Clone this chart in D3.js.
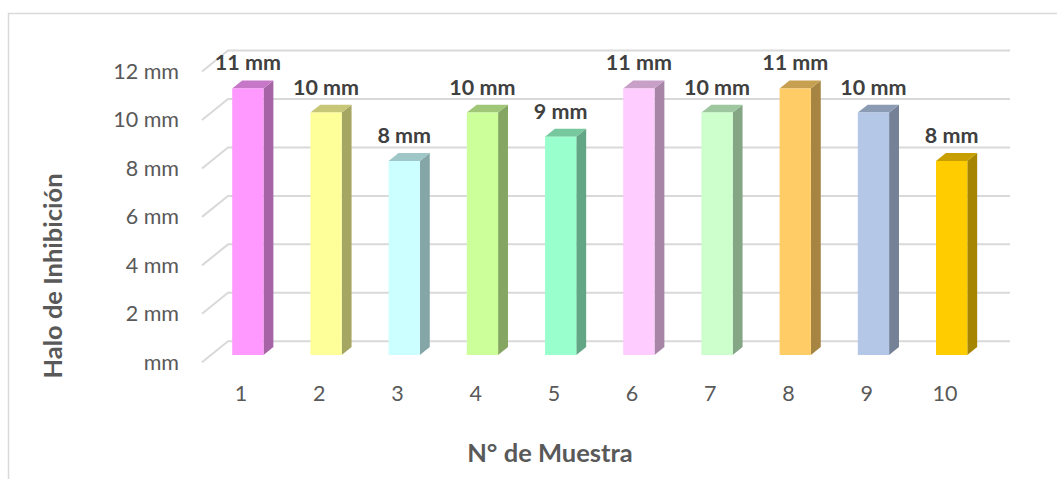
<!DOCTYPE html>
<html>
<head>
<meta charset="utf-8">
<script src="https://cdn.jsdelivr.net/npm/d3@7"></script>
<style>
  html, body { margin: 0; padding: 0; background: #fff; }
  svg { display: block; }
</style>
</head>
<body>
<svg id="chart" width="1057" height="479"></svg>
<script>
// Sample numbers and the inhibition halo measured for each
const categories = ["1", "2", "3", "4", "5", "6", "7", "8", "9", "10"];
const values = [11, 10, 8, 10, 9, 11, 10, 11, 10, 8];
const barColors = ["#FF99FF", "#FFFF99", "#CCFFFF", "#CCFF99", "#99FFCC",
                   "#FFCCFF", "#CCFFCC", "#FFCC66", "#B4C7E7", "#FFCC00"];
const yTicks = [0, 2, 4, 6, 8, 10, 12];
const yTitle = "Halo de Inhibición";
const xTitle = "N° de Muestra";

const svg = d3.select("#chart");
const font = "Lato, 'Open Sans', sans-serif";

// Oblique 3D frame: the floor runs from front (z=0) to back wall (z=1)
const depthDX = 26, depthDY = -21;
const barFront = 0.35, barDepth = 0.38;

const x = d3.scaleBand().domain(categories).range([202, 984]);
const y = d3.scaleLinear().domain([0, 12]).range([362.3, 71.5]);

const proj = (px, v, z) => [px + z * depthDX, y(v) + z * depthDY];

// Outer chart border
svg.append("path")
  .attr("d", "M8.5,479 V13.5 H1057")
  .attr("fill", "none").attr("stroke", "#d9d9d9").attr("stroke-width", 1.5);

// Gridlines on the side wall and back wall
const grid = svg.append("g").attr("stroke", "#d9d9d9").attr("stroke-width", 2).attr("fill", "none");
const [x0, x1] = x.range();
yTicks.forEach(v => {
  const a = proj(x0, v, 0), b = proj(x0, v, 1), c = proj(x1, v, 1);
  grid.append("path").attr("d", `M${a[0]},${a[1]} L${b[0]},${b[1]} L${c[0]},${c[1]}`);
});

// Y tick labels
svg.append("g").selectAll("text").data(yTicks).join("text")
  .attr("x", 179).attr("y", d => y(d)).attr("dy", "0.35em")
  .attr("text-anchor", "end")
  .attr("font-family", font).attr("font-size", 21.5).attr("fill", "#595959")
  .text(d => d === 0 ? "mm" : d + " mm");

// X tick labels
svg.append("g").selectAll("text").data(categories).join("text")
  .attr("x", d => x(d) + x.bandwidth() / 2).attr("y", 393.5).attr("dy", "0.35em")
  .attr("text-anchor", "middle")
  .attr("font-family", font).attr("font-size", 21.5).attr("fill", "#595959")
  .text(d => d);

// 3D columns: front face, right side, top
const bw = x.bandwidth() * 0.4;
const barLeft = d => x(d) + x.bandwidth() * 0.27;
const bars = svg.append("g").selectAll("g").data(categories.map((c, i) => ({ c, v: values[i], col: barColors[i] })))
  .join("g");

const shade = (col, k) => {
  const c = d3.rgb(col);
  return d3.rgb(c.r * k, c.g * k, c.b * k).formatHex();
};
const poly = pts => "M" + pts.map(p => p.join(",")).join("L") + "Z";

bars.append("path")
  .attr("fill", d => shade(d.col, 0.65))
  .attr("d", d => {
    const l = barLeft(d.c) + bw;
    return poly([proj(l, 0, barFront), proj(l, 0, barFront + barDepth),
                 proj(l, d.v, barFront + barDepth), proj(l, d.v, barFront)]);
  });
bars.append("path")
  .attr("fill", d => shade(d.col, 0.78))
  .attr("d", d => {
    const l = barLeft(d.c), r = l + bw;
    return poly([proj(l, d.v, barFront), proj(r, d.v, barFront),
                 proj(r, d.v, barFront + barDepth), proj(l, d.v, barFront + barDepth)]);
  });
bars.append("path")
  .attr("fill", d => d.col)
  .attr("d", d => {
    const l = barLeft(d.c), r = l + bw;
    return poly([proj(l, 0, barFront), proj(r, 0, barFront),
                 proj(r, d.v, barFront), proj(l, d.v, barFront)]);
  });

// Value labels above each column
bars.append("text")
  .attr("x", d => proj(barLeft(d.c) + bw / 2, d.v, barFront)[0])
  .attr("y", d => proj(barLeft(d.c), d.v, barFront)[1] - 18)
  .attr("text-anchor", "middle")
  .attr("font-family", font).attr("font-size", 21.5).attr("font-weight", "bold")
  .attr("fill", "#404040")
  .text(d => d.v + " mm");

// Axis titles
svg.append("text")
  .attr("transform", "translate(62,276) rotate(-90)")
  .attr("text-anchor", "middle")
  .attr("font-family", font).attr("font-size", 25.5).attr("font-weight", "bold")
  .attr("fill", "#595959")
  .text(yTitle);
svg.append("text")
  .attr("x", 550).attr("y", 462)
  .attr("text-anchor", "middle")
  .attr("font-family", font).attr("font-size", 25.5).attr("font-weight", "bold")
  .attr("fill", "#595959")
  .text(xTitle);
</script>
</body>
</html>
